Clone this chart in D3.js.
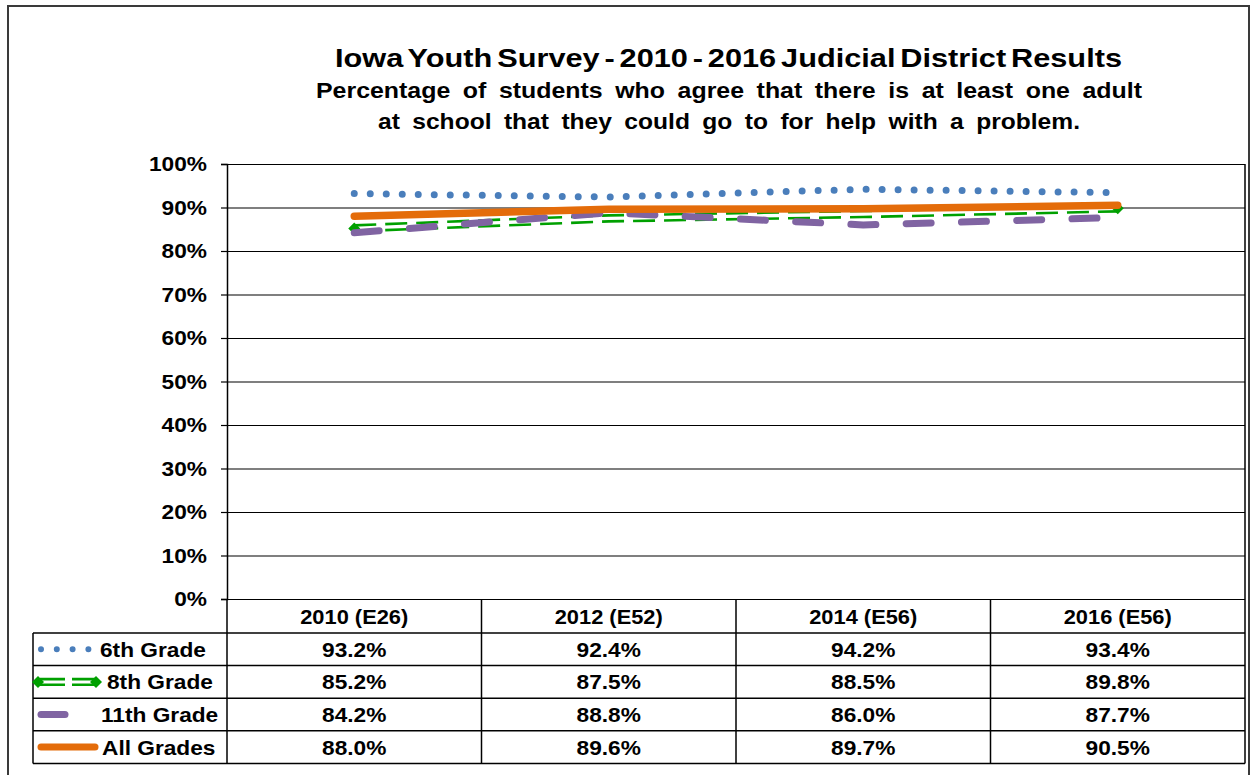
<!DOCTYPE html>
<html>
<head>
<meta charset="utf-8">
<script src="https://cdn.jsdelivr.net/npm/d3@7"></script>
<style>
  html, body { margin: 0; padding: 0; background: #fff; }
  svg { display: block; font-family: "Liberation Sans", Arial, sans-serif; }
</style>
</head>
<body>
<svg id="chart" width="1250" height="775"></svg>
<script>
const categories = ["2010 (E26)", "2012 (E52)", "2014 (E56)", "2016 (E56)"];
const seriesNames = ["6th Grade", "8th Grade", "11th Grade", "All Grades"];
const grade6 = [93.2, 92.4, 94.2, 93.4];
const grade8 = [85.2, 87.5, 88.5, 89.8];
const grade11 = [84.2, 88.8, 86.0, 87.7];
const allGrades = [88.0, 89.6, 89.7, 90.5];
const yTicks = [0, 10, 20, 30, 40, 50, 60, 70, 80, 90, 100];
const titleText = "Iowa Youth Survey - 2010 - 2016 Judicial District Results";
const subtitle1 = "Percentage of students who agree that there is at least one adult";
const subtitle2 = "at school that they could go to for help with a problem.";

const series = [
  {name: seriesNames[0], values: grade6, key: "g6"},
  {name: seriesNames[1], values: grade8, key: "g8"},
  {name: seriesNames[2], values: grade11, key: "g11"},
  {name: seriesNames[3], values: allGrades, key: "all"}
];

const svg = d3.select("#chart");
const L = 227, R = 1245, T = 164, B = 599;
const rowH = 32.6, tableTop = 599, headH = 34, legendLeft = 33;
const FS = 21, STRETCH = 1.08;

function stretch(sel, f) {
  sel.each(function() {
    const w = this.getComputedTextLength();
    d3.select(this).attr("textLength", w * f).attr("lengthAdjust", "spacingAndGlyphs");
  });
}

const x = d3.scaleBand().domain(categories).range([L, R]).padding(0);
const cx = c => x(c) + x.bandwidth() / 2;
const y = d3.scaleLinear().domain([0, 100]).range([B, T]);

// outer frame
svg.append("rect").attr("x", 8).attr("y", 6).attr("width", 1241).attr("height", 800)
  .attr("fill", "none").attr("stroke", "#3a3a3a").attr("stroke-width", 2);

// titles
svg.append("text").attr("x", 335).attr("y", 67).attr("font-size", 25).attr("font-weight", "bold")
  .attr("word-spacing", -3)
  .attr("textLength", 787).attr("lengthAdjust", "spacingAndGlyphs").text(titleText);
svg.append("text").attr("x", 316).attr("y", 98).attr("font-size", 22).attr("font-weight", "bold")
  .attr("word-spacing", 5)
  .attr("textLength", 826).attr("lengthAdjust", "spacingAndGlyphs").text(subtitle1);
svg.append("text").attr("x", 378).attr("y", 129).attr("font-size", 22).attr("font-weight", "bold")
  .attr("word-spacing", 5)
  .attr("textLength", 702).attr("lengthAdjust", "spacingAndGlyphs").text(subtitle2);

// gridlines
const grid = svg.append("g").attr("transform", `translate(${L},0)`)
  .call(d3.axisLeft(y).tickValues(yTicks).tickSize(-(R - L)).tickFormat(""));
grid.select(".domain").remove();
grid.selectAll("line").attr("stroke", "#000").attr("stroke-width", 1.2);

// plot right border
svg.append("line").attr("x1", R).attr("x2", R).attr("y1", y(100)).attr("y2", y(0))
  .attr("stroke", "#000").attr("stroke-width", 1.5);

// y axis
const yAxis = svg.append("g").attr("transform", `translate(${L},0)`)
  .call(d3.axisLeft(y).tickValues(yTicks).tickSize(6).tickPadding(14).tickFormat(d => d + "%"));
yAxis.select(".domain").attr("stroke", "#000").attr("stroke-width", 1.5);
yAxis.selectAll("line").attr("stroke", "#000").attr("stroke-width", 1.2);
yAxis.selectAll("text").attr("font-size", FS).attr("font-weight", "bold").attr("fill", "#000")
  .attr("font-family", "Liberation Sans, Arial, sans-serif").call(stretch, STRETCH);

// data table
const tbl = svg.append("g");
const nRows = series.length;
const tableBottom = tableTop + headH + nRows * rowH;
const colEdges = categories.map(c => x(c)).concat([R]);
tbl.selectAll("line.v").data(colEdges).join("line").attr("class", "v")
  .attr("x1", d => d).attr("x2", d => d).attr("y1", tableTop).attr("y2", tableBottom)
  .attr("stroke", "#000").attr("stroke-width", 1.5);
tbl.append("line").attr("x1", legendLeft).attr("x2", legendLeft)
  .attr("y1", tableTop + headH).attr("y2", tableBottom).attr("stroke", "#000").attr("stroke-width", 1.5);
const rowTops = d3.range(nRows + 1).map(i => tableTop + headH + i * rowH);
tbl.selectAll("line.h").data(rowTops).join("line").attr("class", "h")
  .attr("x1", legendLeft).attr("x2", R).attr("y1", d => d).attr("y2", d => d)
  .attr("stroke", "#000").attr("stroke-width", 1.5);
tbl.selectAll("text.head").data(categories).join("text").attr("class", "head")
  .attr("x", d => cx(d)).attr("y", tableTop + headH / 2).attr("dy", "0.36em")
  .attr("text-anchor", "middle").attr("font-size", FS).attr("font-weight", "bold").text(d => d)
  .call(stretch, 1.04);
const fmt = d3.format(".1f");
series.forEach((s, i) => {
  const rowY = tableTop + headH + i * rowH + rowH / 2;
  tbl.selectAll(`text.val${i}`).data(s.values).join("text").attr("class", `val${i}`)
    .attr("x", (d, j) => cx(categories[j])).attr("y", rowY).attr("dy", "0.36em")
    .attr("text-anchor", "middle").attr("font-size", FS).attr("font-weight", "bold")
    .text(d => fmt(d) + "%").call(stretch, STRETCH);
});

// styles
const styles = {
  g6: {color: "#4A7EBB", width: 7, dash: "0,16", cap: "round"},
  g8: {color: "#00A000", width: 2.6, dash: "22,9", cap: "butt"},
  g11: {color: "#8064A2", width: 7, dash: "25,30.3", cap: "round"},
  all: {color: "#E46C0A", width: 7.5, dash: null, cap: "round"}
};

const line = d3.line().x(d => cx(d.c)).y(d => y(d.v));
const lines = svg.append("g");
series.forEach(s => {
  const st = styles[s.key];
  const pts = s.values.map((v, j) => ({c: categories[j], v}));
  if (s.key === "g8") {
    [-3, 3].forEach(off => {
      lines.append("path").attr("d", line(pts)).attr("transform", `translate(0,${off})`)
        .attr("fill", "none").attr("stroke", st.color).attr("stroke-width", st.width)
        .attr("stroke-dasharray", st.dash);
    });
    const ends = [pts[0], pts[pts.length - 1]];
    lines.selectAll("path.dia").data(ends).join("path").attr("class", "dia")
      .attr("transform", d => `translate(${cx(d.c)},${y(d.v)})`)
      .attr("d", "M-6,0L0,-6L6,0L0,6Z").attr("fill", st.color);
  } else {
    lines.append("path").attr("d", line(pts)).attr("fill", "none")
      .attr("stroke", st.color).attr("stroke-width", st.width)
      .attr("stroke-linecap", st.cap).attr("stroke-linejoin", "round")
      .attr("stroke-dasharray", st.dash);
  }
});

// legend keys in table
const leg = svg.append("g");
series.forEach((s, i) => {
  const st = styles[s.key];
  const rowY = tableTop + headH + i * rowH + rowH / 2;
  if (s.key === "g6") {
    leg.append("line").attr("x1", 41).attr("x2", 89).attr("y1", rowY).attr("y2", rowY)
      .attr("stroke", st.color).attr("stroke-width", 6).attr("stroke-linecap", "round")
      .attr("stroke-dasharray", "0,15.8");
  } else if (s.key === "g8") {
    [-2.8, 2.8].forEach(off => {
      leg.append("line").attr("x1", 40).attr("x2", 96).attr("y1", rowY + off).attr("y2", rowY + off)
        .attr("stroke", st.color).attr("stroke-width", 2.6).attr("stroke-dasharray", "25,7");
    });
    [38, 96].forEach(px => {
      leg.append("path").attr("transform", `translate(${px},${rowY})`)
        .attr("d", "M-6,0L0,-6L6,0L0,6Z").attr("fill", st.color);
    });
  } else if (s.key === "g11") {
    leg.append("line").attr("x1", 41).attr("x2", 65).attr("y1", rowY).attr("y2", rowY)
      .attr("stroke", st.color).attr("stroke-width", 7).attr("stroke-linecap", "round");
  } else {
    leg.append("line").attr("x1", 41).attr("x2", 95).attr("y1", rowY).attr("y2", rowY)
      .attr("stroke", st.color).attr("stroke-width", 7).attr("stroke-linecap", "round");
  }
  const labelX = [100, 107, 101, 102][i];
  leg.append("text").attr("x", labelX).attr("y", rowY).attr("dy", "0.36em")
    .attr("font-size", FS).attr("font-weight", "bold").text(s.name).call(stretch, STRETCH);
});
</script>
</body>
</html>
